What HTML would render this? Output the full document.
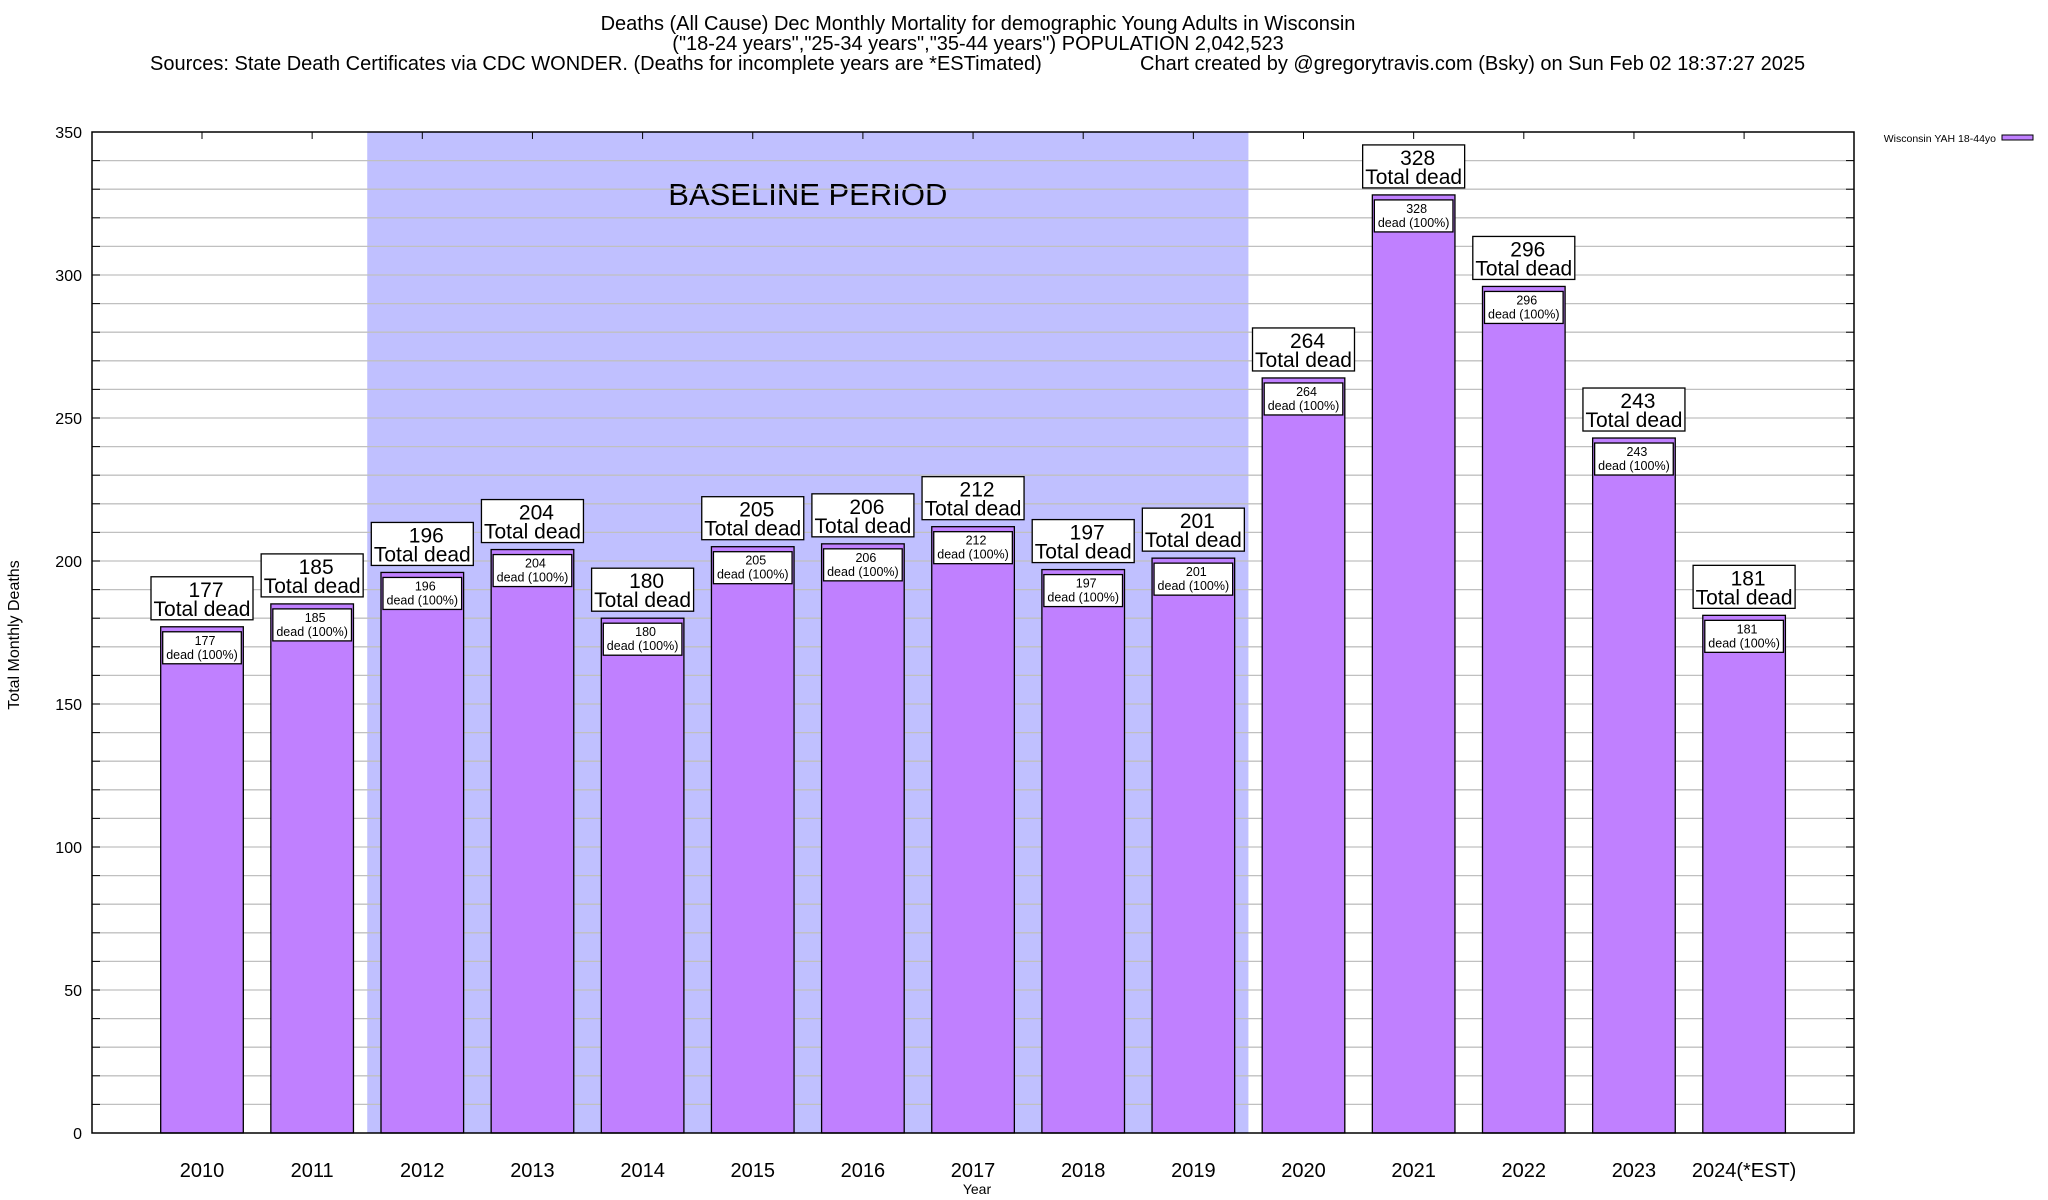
<!DOCTYPE html>
<html><head><meta charset="utf-8"><style>
body{margin:0;background:#fff;}
svg{display:block;font-family:"Liberation Sans",sans-serif;}
</style></head><body>
<svg id="chart" width="2048" height="1200" viewBox="0 0 2048 1200">
<g text-anchor="middle" font-size="20">
<text x="978" y="30">Deaths (All Cause) Dec Monthly Mortality for demographic Young Adults in Wisconsin</text>
<text x="978" y="50">("18-24 years","25-34 years","35-44 years") POPULATION 2,042,523</text>
<text x="150" y="70" text-anchor="start">Sources: State Death Certificates via CDC WONDER. (Deaths for incomplete years are *ESTimated)</text>
<text x="1140" y="70" text-anchor="start">Chart created by @gregorytravis.com (Bsky) on Sun Feb 02 18:37:27 2025</text>
</g>
<g id="grid"></g>
<g id="bars"></g>
<g id="axes"></g>
<text x="19" y="635" transform="rotate(-90 19 635)" text-anchor="middle" font-size="16">Total Monthly Deaths</text>
<text x="977" y="1194" text-anchor="middle" font-size="14">Year</text>
<g>
<text x="1996" y="142" text-anchor="end" font-size="10.5">Wisconsin YAH 18-44yo</text>
<rect x="2002" y="135" width="31" height="5" fill="#c080ff" stroke="#000" stroke-width="1"></rect>
</g>
</svg>
<script>
const categories=["2010","2011","2012","2013","2014","2015","2016","2017","2018","2019","2020","2021","2022","2023","2024(*EST)"];
const deaths=[177,185,196,204,180,205,206,212,197,201,264,328,296,243,181];
const yTicks=[0,50,100,150,200,250,300,350];
const baselineStart=2012, baselineEnd=2019;

const NS="http://www.w3.org/2000/svg";
const L=92,R=1854,T=132,B=1133,yMax=350;
const X0=202,DX=110.15;
const xs=i=>X0+i*DX;
const ys=v=>B-v*(B-T)/yMax;
function mk(tag,attrs,parent){const e=document.createElementNS(NS,tag);for(const k in attrs)e.setAttribute(k,attrs[k]);parent.appendChild(e);return e;}
const grid=document.getElementById('grid'),bars=document.getElementById('bars'),axes=document.getElementById('axes');

const bi0=categories.indexOf(String(baselineStart)),bi1=categories.indexOf(String(baselineEnd));
const band=mk('rect',{x:xs(bi0-0.5),y:T,width:xs(bi1+0.5)-xs(bi0-0.5),height:B-T,fill:'#c0c0ff'},grid);


const bt=mk('text',{x:(xs(bi0-0.5)+xs(bi1+0.5))/2,y:205,'text-anchor':'middle','font-size':'31'},grid);
bt.textContent='BASELINE PERIOD';


for(let v=10;v<yMax;v+=10){
  const g=mk('line',{x1:L,x2:R,y1:ys(v),y2:ys(v),stroke:'#c0c0c0','stroke-width':1.3},grid);
  
  
  mk('line',{x1:L,x2:L+8,y1:ys(v),y2:ys(v),stroke:'#000','stroke-width':1},axes);
  mk('line',{x1:R,x2:R-8,y1:ys(v),y2:ys(v),stroke:'#000','stroke-width':1},axes);
}
const bw=DX*0.75;
deaths.forEach((v,i)=>{
  const cx=xs(i),top=ys(v);
  const r=mk('rect',{x:cx-bw/2,y:top,width:bw,height:B-top,fill:'#c080ff',stroke:'#000','stroke-width':1.3},bars);
  
  
  const ib=mk('rect',{x:cx-bw/2+2,y:top+5,width:bw-4,height:32,fill:'#fff',stroke:'#000','stroke-width':1.3},bars);
  
  
  const t1=mk('text',{x:cx+3,y:top+18,'text-anchor':'middle','font-size':'12.5'},bars);t1.textContent=v;
  
  
  const t2=mk('text',{x:cx,y:top+32,'text-anchor':'middle','font-size':'12.5'},bars);t2.textContent='dead (100%)';
  
  
  const ob=mk('rect',{x:cx-51,y:top-50,width:102,height:43,fill:'#fff',stroke:'#000','stroke-width':1.3},bars);
  
  
  const t3=mk('text',{x:cx+4,y:top-30,'text-anchor':'middle','font-size':'21'},bars);t3.textContent=v;
  
  
  const t4=mk('text',{x:cx,y:top-11,'text-anchor':'middle','font-size':'21'},bars);t4.textContent='Total dead';
  
  
  mk('line',{x1:cx,x2:cx,y1:T,y2:T+7,stroke:'#000','stroke-width':1},axes);
  const xl=mk('text',{x:cx,y:1177,'text-anchor':'middle','font-size':'20'},axes);xl.textContent=categories[i];
  
  
});
yTicks.forEach(v=>{
  const t=mk('text',{x:82,y:ys(v)+6,'text-anchor':'end','font-size':'16'},axes);t.textContent=v;
  
  
});
const fr=mk('rect',{x:L,y:T,width:R-L,height:B-T,fill:'none',stroke:'#000','stroke-width':1.5},axes);


</script>
</body></html>
